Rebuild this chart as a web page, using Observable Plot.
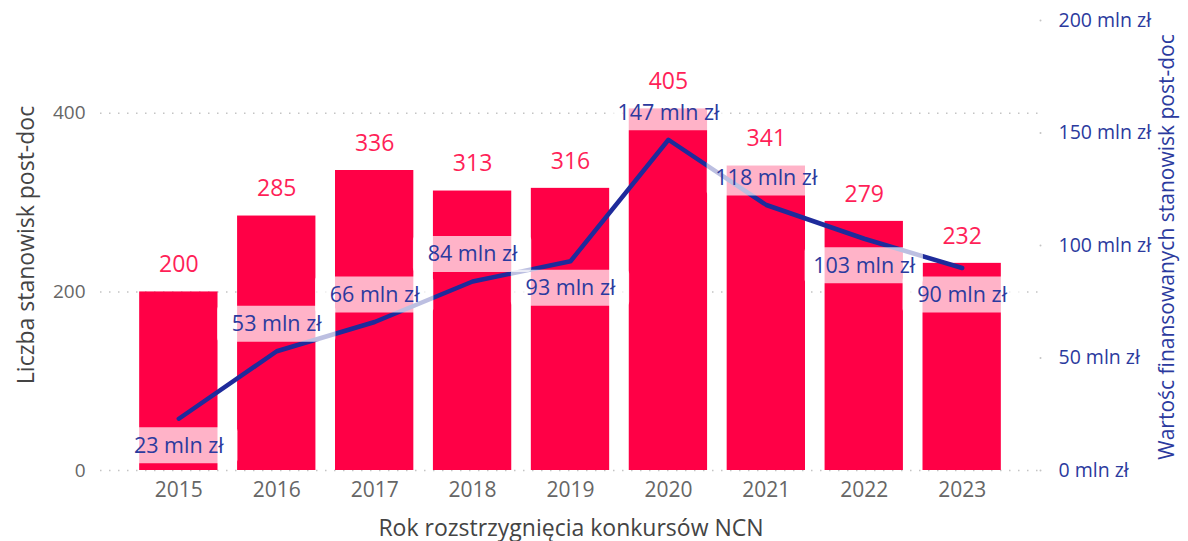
<!DOCTYPE html>
<html>
<head>
<meta charset="utf-8">
<script src="https://cdn.jsdelivr.net/npm/d3@7"></script>
<script src="https://cdn.jsdelivr.net/npm/@observablehq/plot@0.6"></script>
<style>
  html, body { margin: 0; padding: 0; background: #fff; }
  #chart svg { display: block; }
</style>
</head>
<body>
<div id="chart"></div>
<script>
// ---- data ----
const years = ["2015", "2016", "2017", "2018", "2019", "2020", "2021", "2022", "2023"];
const positions = [200, 285, 336, 313, 316, 405, 341, 279, 232];
const funding = [23, 53, 66, 84, 93, 147, 118, 103, 90];
const leftTicks = [0, 200, 400];
const rightTicks = [0, 50, 100, 150, 200];
const fundingLabelSide = ["below", "above", "above", "above", "below", "above", "above", "below", "below"];

const xTitle = "Rok rozstrzygnięcia konkursów NCN";
const yLeftTitle = "Liczba stanowisk post-doc";
const yRightTitle = "Wartośc finansowanych stanowisk post-doc";

// ---- layout ----
const W = 1188, H = 541;
const mL = 100, mR = 148, mT = 20, mB = 71;
const yMax = 504;            // left axis top
const k = yMax / 200;        // right axis (mln zł) -> left scale units

const FONT = "'Open Sans', sans-serif";
const RED = "#FF0046";
const RED_TXT = "#FF1F58";
const BLUE = "#1E2B9B";
const BLUE_TXT = "#2B3A9E";

const data = years.map((y, i) => ({
  year: y,
  count: positions[i],
  value: funding[i],
  yv: funding[i] * k,
  side: fundingLabelSide[i]
}));
const above = data.filter(d => d.side === "above");
const below = data.filter(d => d.side === "below");
const OFF = 27;

const boxOpts = (dy) => ({
  x: "year", y1: "yv", y2: "yv",
  insetTop: -18, insetBottom: -18, insetLeft: -20, insetRight: -20,
  dy, fill: "#fff", fillOpacity: 0.7, rx: 4
});
const lblOpts = (dy) => ({
  x: "year", y: "yv", text: d => `${d.value} mln zł`,
  dy, fill: BLUE_TXT, fontSize: 21.5, textAnchor: "middle"
});

const chart = Plot.plot({
  width: W, height: H,
  marginLeft: mL, marginRight: mR, marginTop: mT, marginBottom: mB,
  style: { fontFamily: FONT, background: "#fff", overflow: "visible" },
  x: { domain: years, paddingInner: 0.2, paddingOuter: 0.4, round: false },
  y: { domain: [0, yMax] },
  marks: [
    Plot.ruleY(leftTicks, { stroke: "#c4c4c4", strokeWidth: 1.5, strokeDasharray: "1.5,7.5" }),
    Plot.dot(rightTicks, { y: d => d * k, frameAnchor: "right", r: 1, fill: "#c4c4c4", stroke: null }),
    Plot.barY(data, { x: "year", y: "count", fill: RED }),
    Plot.line(data, { x: "year", y: "yv", stroke: BLUE, strokeWidth: 4.5, strokeLinejoin: "round", strokeLinecap: "round" }),
    Plot.barY(above, boxOpts(-OFF)),
    Plot.barY(below, boxOpts(OFF)),
    Plot.text(above, lblOpts(-OFF)),
    Plot.text(below, lblOpts(OFF)),
    Plot.text(data, { x: "year", y: "count", text: d => String(d.count), dy: -27, fill: RED_TXT, fontSize: 23 }),
    Plot.axisX({ tickSize: 0, tickPadding: 12, fontSize: 21, color: "#666", label: null }),
    Plot.axisY({ ticks: leftTicks, tickSize: 0, tickPadding: 15, fontSize: 19, color: "#666", label: null }),
    Plot.axisY({
      anchor: "right", ticks: rightTicks.map(v => v * k),
      tickFormat: v => `${Math.round(v / k)} mln zł`,
      tickSize: 0, tickPadding: 18, fontSize: 19.5, color: BLUE_TXT, label: null
    })
  ]
});

document.getElementById("chart").appendChild(chart);

// ---- axis titles ----
const svg = d3.select(chart);
const cy = (mT + (H - mB)) / 2;
svg.append("text")
  .attr("transform", `translate(25,${cy}) rotate(-90)`)
  .attr("text-anchor", "middle").attr("dominant-baseline", "central")
  .attr("font-family", FONT).attr("font-size", 23).attr("fill", "#444")
  .text(yLeftTitle);
svg.append("text")
  .attr("transform", `translate(1166,${cy + 2}) rotate(-90)`)
  .attr("text-anchor", "middle").attr("dominant-baseline", "central")
  .attr("font-family", FONT).attr("font-size", 21).attr("fill", BLUE_TXT)
  .text(yRightTitle);
svg.append("text")
  .attr("x", 571).attr("y", 527)
  .attr("text-anchor", "middle").attr("dominant-baseline", "central")
  .attr("font-family", FONT).attr("font-size", 23).attr("fill", "#444")
  .text(xTitle);
</script>
</body>
</html>
